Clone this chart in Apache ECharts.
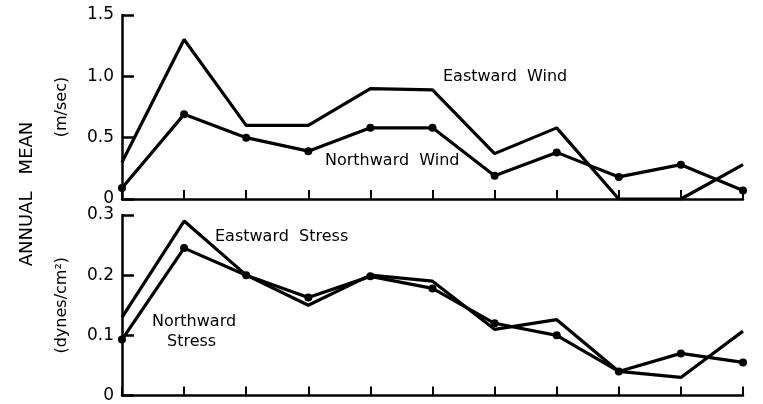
<!DOCTYPE html>
<html>
<head>
<meta charset="utf-8">
<script src="https://cdn.jsdelivr.net/npm/echarts@6/dist/echarts.min.js"></script>
<style>
html, body { margin: 0; padding: 0; background: #fff; }
#main { width: 763px; height: 404px; }
</style>
</head>
<body>
<div id="main"></div>
<script>
// x positions (unlabelled stations / months)
var categories = ['1', '2', '3', '4', '5', '6', '7', '8', '9', '10', '11'];

// top panel: wind (m/sec)
var eastwardWind = [0.3, 1.3, 0.6, 0.6, 0.9, 0.89, 0.37, 0.58, 0, 0, 0.28];
var northwardWind = [0.09, 0.69, 0.5, 0.39, 0.58, 0.58, 0.19, 0.38, 0.18, 0.28, 0.07];

// bottom panel: stress (dynes/cm2)
var eastwardStress = [0.13, 0.29, 0.2, 0.15, 0.2, 0.19, 0.11, 0.126, 0.04, 0.03, 0.107];
var northwardStress = [0.093, 0.245, 0.2, 0.163, 0.198, 0.178, 0.12, 0.1, 0.04, 0.07, 0.055];

var windTicks = [0, 0.5, 1.0, 1.5];
var stressTicks = [0, 0.1, 0.2, 0.3];

var FONT = 'DejaVu Sans';
var chart = echarts.init(document.getElementById('main'));

function fmt(v) {
	return v === 0 ? '0' : v.toFixed(1);
}

function xAx(gridIndex) {
	return {
		type: 'category',
		gridIndex: gridIndex,
		data: categories,
		boundaryGap: false,
		axisLine: { lineStyle: { color: '#000', width: 2.5 } },
		axisTick: { show: true, inside: true, length: 9, lineStyle: { color: '#000', width: 2 } },
		axisLabel: { show: false },
		splitLine: { show: false }
	};
}

function yAx(gridIndex, ticks, name) {
	return {
		type: 'value',
		gridIndex: gridIndex,
		min: ticks[0],
		max: ticks[ticks.length - 1],
		interval: ticks[1] - ticks[0],
		name: name,
		nameLocation: 'middle',
		nameRotate: 90,
		nameGap: 52,
		nameTextStyle: { color: '#000', fontFamily: FONT, fontSize: 16 },
		axisLine: { show: true, lineStyle: { color: '#000', width: 2.5 } },
		axisTick: { show: true, inside: true, length: 12, lineStyle: { color: '#000', width: 2.5 } },
		axisLabel: { color: '#000', fontFamily: FONT, fontSize: 17, margin: 8, formatter: fmt },
		splitLine: { show: false }
	};
}

function line(xi, data, dots) {
	return {
		type: 'line',
		xAxisIndex: xi,
		yAxisIndex: xi,
		data: data,
		showSymbol: dots,
		symbol: 'circle',
		symbolSize: 8,
		itemStyle: { color: '#000' },
		lineStyle: { color: '#000', width: 3.2 },
		animation: false
	};
}

function label(text, x, y) {
	return {
		type: 'text',
		x: x,
		y: y,
		style: { text: text, font: '16px "' + FONT + '"', fill: '#000', verticalAlign: 'middle' }
	};
}

var option = {
	backgroundColor: '#fff',
	animation: false,
	grid: [
		{ left: 122, right: 20, top: 15, height: 184 },
		{ left: 122, right: 20, top: 215, height: 184 }
	],
	xAxis: [xAx(0), xAx(1)],
	yAxis: [yAx(0, windTicks, '(m/sec)'), yAx(1, stressTicks, '(dynes/cm²)')],
	series: [
		line(0, eastwardWind, false),
		line(0, northwardWind, true),
		line(1, eastwardStress, false),
		line(1, northwardStress, true)
	],
	graphic: [
		{
			type: 'text',
			x: 27,
			y: 194,
			rotation: Math.PI / 2,
			style: { text: 'ANNUAL   MEAN', font: '18px "' + FONT + '"', fill: '#000', align: 'center', verticalAlign: 'middle' }
		},
		label('Eastward  Wind', 443, 77),
		label('Northward  Wind', 325, 161),
		label('Eastward  Stress', 215, 237),
		label('Northward', 152, 322),
		label('Stress', 167, 342)
	]
};
chart.setOption(option);
</script>
</body>
</html>
